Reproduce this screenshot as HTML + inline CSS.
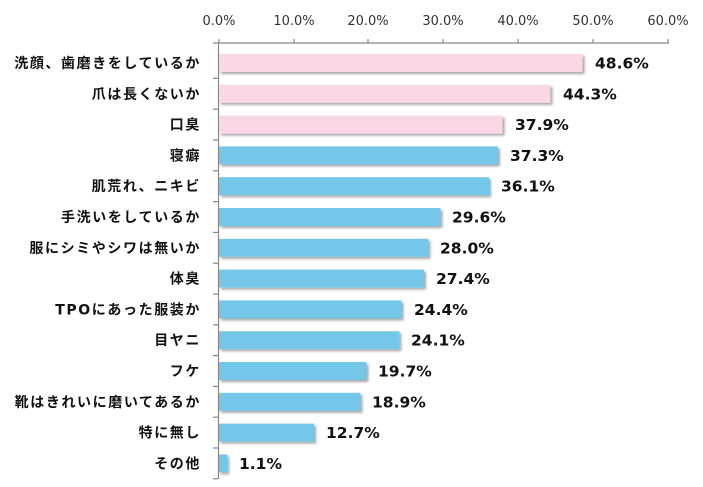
<!DOCTYPE html><html><head><meta charset="utf-8"><style>body{margin:0;background:#fff}</style></head><body>
<svg width="703" height="482" xmlns="http://www.w3.org/2000/svg" font-family="'DejaVu Sans','Noto Sans CJK JP',sans-serif">
<defs><filter id="s" x="-5%" y="-20%" width="110%" height="160%"><feDropShadow dx="2" dy="2" stdDeviation="1.2" flood-color="#000" flood-opacity="0.35"/></filter></defs>
<g font-size="13" fill="#333" text-anchor="middle">
<text x="219" y="25">0.0%</text><text x="294" y="25">10.0%</text><text x="368" y="25">20.0%</text><text x="443" y="25">30.0%</text><text x="518" y="25">40.0%</text><text x="593" y="25">50.0%</text><text x="668" y="25">60.0%</text>
</g>
<g stroke="#888" stroke-width="1.2">
<line x1="213" y1="43" x2="669" y2="43"/><line x1="218.5" y1="43" x2="218.5" y2="479"/>
<line x1="219" y1="39" x2="219" y2="43"/><line x1="294" y1="39" x2="294" y2="43"/><line x1="368" y1="39" x2="368" y2="43"/><line x1="443" y1="39" x2="443" y2="43"/><line x1="518" y1="39" x2="518" y2="43"/><line x1="593" y1="39" x2="593" y2="43"/><line x1="668" y1="39" x2="668" y2="43"/>
<line x1="213" y1="78.4" x2="218" y2="78.4"/><line x1="213" y1="109.2" x2="218" y2="109.2"/><line x1="213" y1="140" x2="218" y2="140"/><line x1="213" y1="170.8" x2="218" y2="170.8"/><line x1="213" y1="201.6" x2="218" y2="201.6"/><line x1="213" y1="232.4" x2="218" y2="232.4"/><line x1="213" y1="263.2" x2="218" y2="263.2"/><line x1="213" y1="294" x2="218" y2="294"/><line x1="213" y1="324.8" x2="218" y2="324.8"/><line x1="213" y1="355.6" x2="218" y2="355.6"/><line x1="213" y1="386.4" x2="218" y2="386.4"/><line x1="213" y1="417.2" x2="218" y2="417.2"/><line x1="213" y1="448" x2="218" y2="448"/><line x1="213" y1="478.8" x2="218" y2="478.8"/>
</g>
<g filter="url(#s)">
<rect x="219" y="54" width="363.5" height="18" fill="#f9d7e6"/>
<rect x="219" y="84.8" width="331.4" height="18" fill="#f9d7e6"/>
<rect x="219" y="115.6" width="283.5" height="18" fill="#f9d7e6"/>
<rect x="219" y="146.4" width="279" height="18" fill="#75c7ea"/>
<rect x="219" y="177.2" width="270" height="18" fill="#75c7ea"/>
<rect x="219" y="208" width="221.4" height="18" fill="#75c7ea"/>
<rect x="219" y="238.8" width="209.4" height="18" fill="#75c7ea"/>
<rect x="219" y="269.6" width="205" height="18" fill="#75c7ea"/>
<rect x="219" y="300.4" width="182.5" height="18" fill="#75c7ea"/>
<rect x="219" y="331.2" width="180.3" height="18" fill="#75c7ea"/>
<rect x="219" y="362" width="147.4" height="18" fill="#75c7ea"/>
<rect x="219" y="392.8" width="141.4" height="18" fill="#75c7ea"/>
<rect x="219" y="423.6" width="95" height="18" fill="#75c7ea"/>
<rect x="219" y="454.4" width="8.2" height="18" fill="#75c7ea"/>
</g>
<g font-size="14" font-weight="bold" fill="#111" text-anchor="end" letter-spacing="1.6">
<text x="201" y="68">洗顔、歯磨きをしているか</text>
<text x="201" y="98.8">爪は長くないか</text>
<text x="201" y="129.6">口臭</text>
<text x="201" y="160.4">寝癖</text>
<text x="201" y="191.2">肌荒れ、ニキビ</text>
<text x="201" y="222">手洗いをしているか</text>
<text x="201" y="252.8">服にシミやシワは無いか</text>
<text x="201" y="283.6">体臭</text>
<text x="201" y="314.4">TPOにあった服装か</text>
<text x="201" y="345.2">目ヤニ</text>
<text x="201" y="376">フケ</text>
<text x="201" y="406.8">靴はきれいに磨いてあるか</text>
<text x="201" y="437.6">特に無し</text>
<text x="201" y="468.4">その他</text>
</g>
<g font-size="15.5" font-weight="bold" fill="#111">
<text x="595" y="68.5">48.6%</text>
<text x="563" y="99.3">44.3%</text>
<text x="515" y="130.1">37.9%</text>
<text x="510" y="160.9">37.3%</text>
<text x="501" y="191.7">36.1%</text>
<text x="452" y="222.5">29.6%</text>
<text x="440" y="253.3">28.0%</text>
<text x="436" y="284.1">27.4%</text>
<text x="414" y="314.9">24.4%</text>
<text x="411" y="345.7">24.1%</text>
<text x="378" y="376.5">19.7%</text>
<text x="372" y="407.3">18.9%</text>
<text x="326" y="438.1">12.7%</text>
<text x="239" y="468.9">1.1%</text>
</g>
</svg></body></html>
